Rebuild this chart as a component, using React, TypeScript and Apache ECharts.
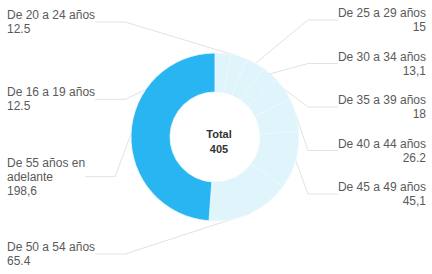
import React, { useEffect, useRef } from 'react';
import * as echarts from 'echarts';

const categories = [
  'De 16 a 19 años',
  'De 20 a 24 años',
  'De 25 a 29 años',
  'De 30 a 34 años',
  'De 35 a 39 años',
  'De 40 a 44 años',
  'De 45 a 49 años',
  'De 50 a 54 años',
  'De 55 años en\nadelante',
];
const values = [12.5, 12.5, 15, 13.1, 18, 26.2, 45.1, 65.4, 198.6];
const valueLabels = ['12.5', '12.5', '15', '13,1', '18', '26.2', '45,1', '65.4', '198,6'];
const totalTitle = 'Total';
const totalValue = '405';

// label placement order on each side (top to bottom), by data index
const leftOrder = [1, 0, 8, 7];
const rightOrder = [2, 3, 4, 5, 6];

const LIGHT = '#E0F4FC';
const BLUE = '#29B5F2';

export default function App() {
  const ref = useRef<HTMLDivElement>(null);
  useEffect(() => {
    if (!ref.current) return;
    const chart = echarts.init(ref.current, undefined, { renderer: 'svg' });
    const W = 432;
    const spread = (n: number, top: number, bottom: number, i: number) =>
      n === 1 ? top : top + ((bottom - top) * i) / (n - 1);
    chart.setOption({
      animation: false,
      title: {
        text: totalTitle + '\n' + totalValue,
        left: 214,
        top: 121,
        textAlign: 'center',
        textStyle: {
          fontFamily: 'Liberation Sans',
          fontSize: 11,
          fontWeight: 'bold',
          color: '#333',
          lineHeight: 15,
        },
      },
      series: [
        {
          type: 'pie',
          center: [215, 137],
          radius: [45, 84],
          startAngle: 90,
          clockwise: true,
          avoidLabelOverlap: false,
          data: categories.map((c, i) => ({
            name: c,
            value: values[i],
            itemStyle: { color: i === 8 ? BLUE : LIGHT },
          })),
          itemStyle: { borderColor: '#EEF9FE', borderWidth: 0.8 },
          label: {
            show: true,
            formatter: (p: any) => p.name + '\n' + valueLabels[p.dataIndex],
            fontFamily: 'Liberation Sans',
            fontSize: 12,
            lineHeight: 14,
            color: '#5a5a5a',
          },
          labelLine: {
            show: true,
            length: 10,
            length2: 30,
            lineStyle: { color: '#e2e2e2', width: 1 },
          },
          labelLayout: (p: any) => {
            const idx = p.dataIndex;
            const li = leftOrder.indexOf(idx);
            if (li >= 0) {
              return {
                x: 7,
                y: spread(leftOrder.length, 22, 254, li),
                align: 'left',
                verticalAlign: 'middle',
              };
            }
            const ri = rightOrder.indexOf(idx);
            return {
              x: W - 6,
              y: spread(rightOrder.length, 20, 194, ri),
              align: 'right',
              verticalAlign: 'middle',
            };
          },
        },
      ],
    });
    return () => chart.dispose();
  }, []);
  return (
    <div
      ref={ref}
      style={{ position: 'fixed', left: 0, top: 0, width: 432, height: 274, background: '#fff' }}
    />
  );
}
